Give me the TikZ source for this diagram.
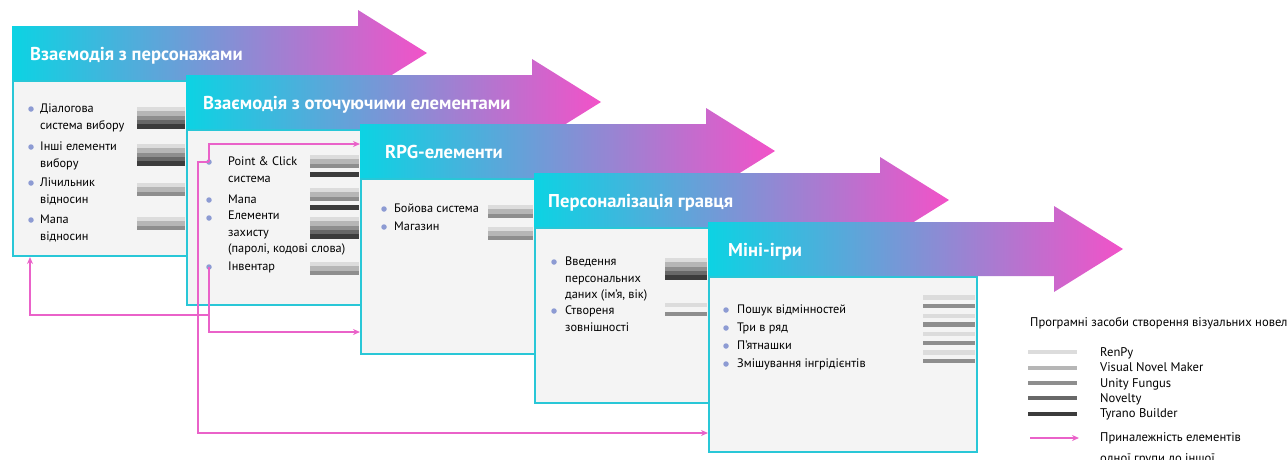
\documentclass[tikz,border=0pt]{standalone}
\usepackage{fontspec}
\setmainfont{PT Sans}
\usetikzlibrary{positioning,arrows.meta}

\definecolor{cyanc}{HTML}{0CD3E3}
\definecolor{pinkc}{HTML}{F252C8}
\definecolor{framec}{HTML}{29C7D7}
\definecolor{bodyc}{HTML}{F4F4F4}
\definecolor{dotc}{HTML}{8D9BD3}
\definecolor{linkc}{HTML}{EA62C9}
\definecolor{tool1}{HTML}{DCDCDC}
\definecolor{tool2}{HTML}{B6B6B6}
\definecolor{tool3}{HTML}{8E8E8E}
\definecolor{tool4}{HTML}{686868}
\definecolor{tool5}{HTML}{3C3C3C}

% stripes of one row: x from, x to, top, slots
\newcommand\toolbar[4]{\foreach \s in {#4}{\fill[tool\s] (#1,{#3+(\s-1)*4.3}) rectangle (#2,{#3+\s*4.3});}}

\begin{document}
\begin{tikzpicture}[x=1pt,y=-1pt,
  body/.style={draw=framec,line width=2pt,fill=bodyc,minimum width=268pt,minimum height=175pt,anchor=north west,inner sep=0pt},
  band/.style={left color=cyanc,right color=pinkc},
  head/.style={font=\fontsize{18.6}{21}\selectfont\bfseries,text=white,anchor=base west,inner sep=0pt},
  item/.style={font=\fontsize{12.3}{16.5}\selectfont,align=left,anchor=base west,inner sep=0pt},
  legend/.style={font=\fontsize{12.6}{15.5}\selectfont,align=left,anchor=base west,inner sep=0pt},
  dot/.style={circle,fill=dotc,inner sep=0pt,minimum size=5.5pt},
  link/.style={draw=linkc,line width=1.7pt,-{Stealth[length=7pt,width=6pt]}}]
\useasboundingbox (0,0) rectangle (1288,459);

% cards
\foreach \cx/\cy/\tx/\ttl [count=\i] in {12/26/30/{Взаємодія з персонажами},
    186/75/203/{Взаємодія з оточуючими елементами},
    360/124/385/{RPG-елементи},
    534/173/548/{Персоналізація гравця},
    708/222/728/{Міні-ігри}}
{
  \node[body] (body_\i) at (\cx,\cy+54) {};
  \shade[band] (\cx,\cy) -- ++(346,0) -- ++(0,-16) -- ++(69,43) -- ++(-69,43)
    -- ++(0,-16) -- ++(-346,0) -- cycle;
  \node[head] (head_\i) at (\tx,\cy+34) {\ttl};
}

% card 1 (node base = last line)
\node[item] (t_1_1) at (40,129) {Діалогова\\система вибору};
\node[item] (t_1_2) at (40,167) {Інші елементи\\вибору};
\node[item] (t_1_3) at (40,203) {Лічильник\\відносин};
\node[item] (t_1_4) at (40,240) {Мапа\\відносин};
\node[dot] (b_1_1) at (31,109) {};
\node[dot] (b_1_2) at (31,147) {};
\node[dot] (b_1_3) at (31,183) {};
\node[dot] (b_1_4) at (31,220) {};
\toolbar{137}{185}{107}{1,...,5}
\toolbar{137}{185}{144}{1,...,5}
\toolbar{137}{185}{183}{1,2,3}
\toolbar{137}{185}{217}{1,2,3}

% card 2
\node[item] (t_2_1) at (228,182) {Point \& Click\\система};
\node[item] (t_2_2) at (228,203.5) {Мапа};
\node[item] (t_2_3) at (228,252.5) {Елементи\\захисту\\(паролі, кодові слова)};
\node[item] (t_2_4) at (228,270.5) {Інвентар};
\node[dot] (b_2_1) at (209,162) {};
\node[dot] (b_2_2) at (209,200) {};
\node[dot] (b_2_3) at (209,218) {};
\node[dot] (b_2_4) at (209,267) {};
\toolbar{310}{359}{155}{1,2,3,5}
\toolbar{310}{359}{188}{1,2,3,5}
\toolbar{310}{359}{217}{1,...,5}
\toolbar{310}{359}{262}{1,2,3}

% card 3
\node[item] (t_3_1) at (394,212.5) {Бойова система};
\node[item] (t_3_2) at (394,230.5) {Магазин};
\node[dot] (b_3_1) at (384,209) {};
\node[dot] (b_3_2) at (384,227) {};
\toolbar{488}{533}{205}{1,2,3}
\toolbar{488}{533}{227}{1,2,3}

% card 4
\node[item] (t_4_1) at (565,298.5) {Введення\\персональних\\даних (ім’я, вік)};
\node[item] (t_4_2) at (565,331) {Створеня\\зовнішності};
\node[dot] (b_4_1) at (554,262) {};
\node[dot] (b_4_2) at (554,311) {};
\toolbar{665}{707}{258}{1,...,5}
\toolbar{665}{707}{303}{1,3}

% card 5
\foreach \txt/\y [count=\i] in {Пошук відмінностей/310, Три в ряд/328,
    П’ятнашки/346, Змішування інгрідієнтів/364}
{
  \node[item] (t_5_\i) at (737,\y+3.5) {\txt};
  \node[dot] (b_5_\i) at (726,\y) {};
  \toolbar{923}{975}{\y-15+\i*0.3}{1,3}
}

% legend
\node[legend] (leg_title) at (1030,326) {Програмні засоби створення візуальних новел};
\foreach \tool/\y [count=\i] in {RenPy/352, Visual Novel Maker/367.5, Unity Fungus/383,
    Novelty/398, Tyrano Builder/413.5}
{
  \draw[tool\i,line width=4pt] (1028,\y) -- (1077,\y);
  \node[legend] (leg_\i) at (1100,\y+4) {\tool};
}
\coordinate (leg_from) at (1030,438);
\coordinate (leg_to) at (1079,438);
\draw[link] (leg_from) -- (leg_to);
\node[legend] (leg_link) at (1100,462) {Приналежність елементів\\[5pt]одної групи до іншої};

% links between groups
\coordinate (y_a) at (0,144);
\coordinate (y_b) at (0,315);
\coordinate (y_c) at (0,332);
\coordinate (y_d) at (0,433);
\coordinate (x_back) at (30,0);
\coordinate (x_down) at (198,0);
\draw[link] (b_2_1.center) |- (body_3.west |- y_a);
\draw[link] (b_2_1.center) -- (x_down |- b_2_1) |- (body_5.west |- y_d);
\draw[link] (b_2_4.center) |- (body_3.west |- y_c);
\draw[link] (b_2_4.center) |- (x_back |- y_b) -- (x_back |- body_1.south);
\end{tikzpicture}
\end{document}
